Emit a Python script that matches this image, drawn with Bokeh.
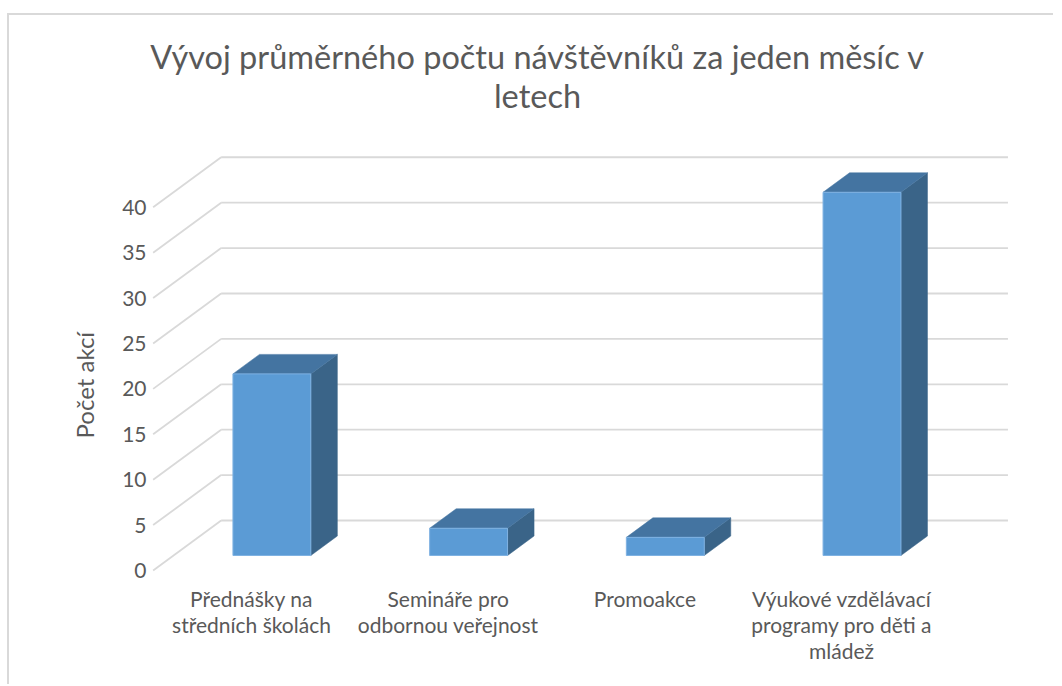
import numpy as np
from bokeh.plotting import figure
from bokeh.models import Range1d, FixedTicker, Label, Title
from bokeh.embed import file_html
from bokeh.resources import INLINE

# ---- data ----
categories = [
    "Přednášky na\nstředních školách",
    "Semináře pro\nodbornou veřejnost",
    "Promoakce",
    "Výukové vzdělávací\nprogramy pro děti a\nmládež",
]
values = [20, 3, 2, 40]
y_ticks = [0, 5, 10, 15, 20, 25, 30, 35, 40]
title_text = "Vývoj průměrného počtu návštěvníků za jeden měsíc v\nletech"
y_label = "Počet akcí"

# ---- 3D geometry (in data units) ----
DX = 0.3457      # x shift for full depth
DY = 5.507       # y shift for full depth
D_FRONT = 0.30   # depth of bar front face
D_BACK = 0.69    # depth of bar back face
HALF_W = 0.198
X_MIN, X_MAX = -0.5, 3.5

FONT = "Lato"
TXT = "#595959"
GRID = "#d9d9d9"
C_FRONT = "#5b9bd5"
C_TOP = "#4474a1"
C_SIDE = "#3a6488"

vals = np.array(values, dtype=float)
xc = np.arange(len(vals)) + D_FRONT * DX
left = xc - HALF_W
right = xc + HALF_W
bottom = np.full_like(vals, D_FRONT * DY)
top = vals + D_FRONT * DY
ddx = (D_BACK - D_FRONT) * DX
ddy = (D_BACK - D_FRONT) * DY

p = figure(
    frame_width=862, frame_height=557,
    min_border_left=139, min_border_right=43,
    min_border_top=0, min_border_bottom=112,
    x_range=Range1d(-0.5236, 3.8586), y_range=Range1d(-0.22, 61.12),
    output_backend="svg", toolbar_location=None,
    styles={"border-top": "2px solid #d9d9d9", "border-left": "2px solid #d9d9d9",
            "margin-top": "13px", "margin-left": "7px"},
)
p.outline_line_color = None
p.xgrid.visible = False
p.ygrid.visible = False
p.background_fill_color = "white"
p.border_fill_color = "white"

# gridlines: back wall and side wall
t = np.array(y_ticks, dtype=float)
p.segment(x0=np.full_like(t, X_MIN + DX), y0=t + DY, x1=np.full_like(t, X_MAX + DX), y1=t + DY,
          line_color=GRID, line_width=1.8)
p.segment(x0=np.full_like(t, X_MIN), y0=t, x1=np.full_like(t, X_MIN + DX), y1=t + DY,
          line_color=GRID, line_width=1.8)

# bars: side, top, front
side_xs = [[r, r, r + ddx, r + ddx] for r in right]
side_ys = [[b, tp, tp + ddy, b + ddy] for b, tp in zip(bottom, top)]
p.patches(side_xs, side_ys, fill_color=C_SIDE, line_color=C_SIDE, line_width=0.5)
top_xs = [[l, r, r + ddx, l + ddx] for l, r in zip(left, right)]
top_ys = [[tp, tp, tp + ddy, tp + ddy] for tp in top]
p.patches(top_xs, top_ys, fill_color=C_TOP, line_color=C_TOP, line_width=0.5)
p.quad(left=left, right=right, bottom=bottom, top=top,
       fill_color=C_FRONT, line_color="#7fb2e2", line_width=1)

# axes
p.yaxis.ticker = FixedTicker(ticks=y_ticks)
p.yaxis.axis_line_color = None
p.yaxis.major_tick_line_color = None
p.yaxis.minor_tick_line_color = None
p.yaxis.major_tick_out = 0
p.yaxis.major_tick_in = 0
p.yaxis.minor_tick_out = 0
p.yaxis.major_label_standoff = 2
p.yaxis.major_label_text_font = FONT
p.yaxis.major_label_text_font_size = "21px"
p.yaxis.major_label_text_color = TXT

p.xaxis.ticker = FixedTicker(ticks=list(range(len(categories))))
p.xaxis.major_label_overrides = {i: c for i, c in enumerate(categories)}
p.xaxis.axis_line_color = None
p.xaxis.major_tick_line_color = None
p.xaxis.minor_tick_line_color = None
p.xaxis.major_tick_out = 0
p.xaxis.major_tick_in = 0
p.xaxis.minor_tick_out = 0
p.xaxis.major_label_standoff = 13
p.xaxis.major_label_text_font = FONT
p.xaxis.major_label_text_font_size = "21px"
p.xaxis.major_label_text_color = TXT
p.xaxis.major_label_text_line_height = 1.05

# y-axis title (placed in the left panel)
p.add_layout(Title(text=y_label, align="left", offset=134, standoff=42,
                   text_font=FONT, text_font_size="24px", text_color=TXT,
                   text_font_style="normal"), "left")

# chart title
p.add_layout(Label(x=1.454, y=58.7, text=title_text, text_align="center", text_baseline="top",
                   text_font=FONT, text_font_size="32.5px", text_color=TXT,
                   text_line_height=0.98))

open("out.html", "w").write(file_html(p, INLINE))
